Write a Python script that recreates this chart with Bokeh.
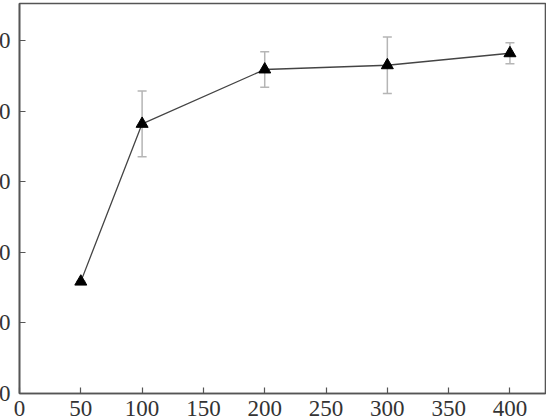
from bokeh.plotting import figure
from bokeh.models import ColumnDataSource, Whisker, TeeHead, Range1d, FixedTicker
from bokeh.embed import file_html
from bokeh.resources import INLINE

# data
conc = [50, 100, 200, 300, 400]
mean = [31.7, 76.4, 91.8, 93.0, 96.4]
err = [0.0, 9.3, 5.0, 8.0, 3.0]
x_ticks = [0, 50, 100, 150, 200, 250, 300, 350, 400]
y_ticks = [0, 20, 40, 60, 80, 100]

src = ColumnDataSource(dict(
    x=conc, y=mean,
    lo=[m - e for m, e in zip(mean, err)],
    hi=[m + e for m, e in zip(mean, err)],
))

SHIFT = 30
p = figure(width=546 + SHIFT, height=432, output_backend="svg", toolbar_location=None,
           x_range=Range1d(0, 429), y_range=Range1d(0, 110.5),
           min_border_left=49, min_border_right=1, min_border_top=3, min_border_bottom=39)
p.styles = {"margin-left": f"-{SHIFT}px"}

p.xgrid.visible = False
p.ygrid.visible = False
p.background_fill_color = "white"
p.border_fill_color = "white"
p.outline_line_color = "#555555"
p.outline_line_width = 1.6

for ax in (p.xaxis[0], p.yaxis[0]):
    ax.axis_line_color = "#555555"
    ax.axis_line_width = 1.6
    ax.major_tick_line_color = "#555555"
    ax.major_tick_line_width = 1.2
    ax.major_tick_in = 6
    ax.major_tick_out = 0
    ax.minor_tick_line_color = None
    ax.major_label_text_font = "Liberation Serif"
    ax.major_label_text_font_size = "23px"
    ax.major_label_text_color = "#333333"

p.xaxis.ticker = FixedTicker(ticks=x_ticks)
p.yaxis.ticker = FixedTicker(ticks=y_ticks)
p.xaxis.major_label_standoff = 7
p.yaxis.major_label_standoff = 9

w = Whisker(source=src, base="x", upper="hi", lower="lo",
            line_color="#b5b5b5", line_width=1.5,
            upper_head=TeeHead(size=9, line_color="#b5b5b5", line_width=1.5),
            lower_head=TeeHead(size=9, line_color="#b5b5b5", line_width=1.5))
p.add_layout(w)

p.line("x", "y", source=src, line_color="#444444", line_width=1.3)
p.scatter("x", "y", source=src, marker="triangle", size=12,
          fill_color="black", line_color="black")

open("out.html", "w").write(file_html(p, INLINE))
